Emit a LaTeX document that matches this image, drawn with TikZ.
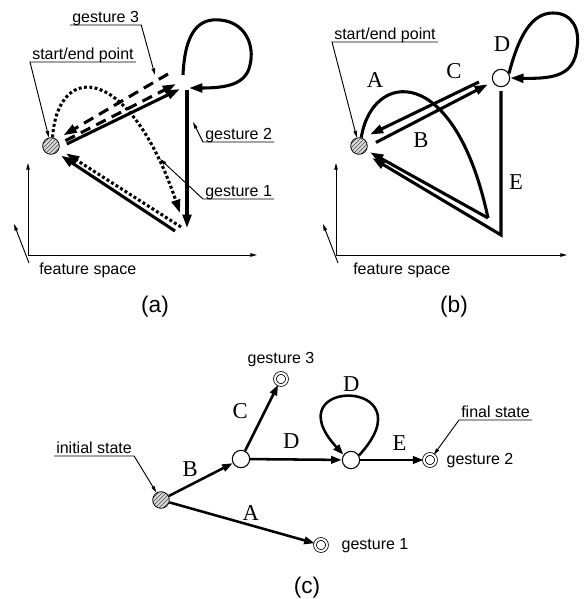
\documentclass[tikz,border=0pt]{standalone}
\usepackage{fontspec}
\setmainfont{Liberation Serif}
\setsansfont{Liberation Sans}
\usetikzlibrary{arrows.meta,positioning,patterns}

\newcommand{\notefont}{\sffamily\fontsize{12}{14}\selectfont}
\newcommand{\letterfont}{\rmfamily\fontsize{17}{20}\selectfont}
\newcommand{\capfont}{\sffamily\fontsize{17}{20}\selectfont}

\begin{document}
\begin{tikzpicture}[
    x=0.75pt, y=-0.75pt,
    startstate/.style={circle, draw, line width=0.6pt, minimum size=12.5pt, inner sep=0pt, preaction={fill=gray!30}, pattern=north east lines, pattern color=black!70},
    plainstate/.style={circle, draw, line width=0.8pt, fill=white, minimum size=13pt, inner sep=0pt},
    finalstate/.style={circle, draw, double, double distance=1.5pt, line width=0.6pt, minimum size=9pt, inner sep=0pt},
    note/.style={font=\notefont, inner xsep=1.5pt, inner ysep=0pt, text depth=0.2em},
    letter/.style={font=\letterfont, inner sep=0pt},
    caption/.style={font=\capfont, inner sep=0pt},
    trail/.style={line width=2.3pt, -{Triangle[length=10pt,width=6.5pt]}},
    plain/.style={line width=2.3pt},
    dottrail/.style={trail, dash pattern=on 2.2pt off 1.8pt},
    dashtrail/.style={trail, dash pattern=on 8pt off 5pt},
    edge/.style={line width=1.9pt, -{Triangle[length=8pt,width=5.5pt]}},
    leader/.style={line width=0.7pt, -{Triangle[length=5pt,width=2.6pt]}},
    axis/.style={line width=0.7pt, -{Triangle[length=5pt,width=2.6pt]}}
]
\useasboundingbox (0,0) rectangle (584,599);

% (a)
\node[startstate] (sa) at (51,146) {};
\coordinate (oa) at (28,255);
\draw[axis] (oa) -- ++(0,-92);
\draw[axis] (oa) -- ++(229,0);
\draw[axis] ([shift={(1,8)}]oa) -- ++(-15,-39);
\node[note, anchor=base west] (fsa) at (37,274) {feature space};

\coordinate (p1) at (180,89);
\coordinate (p2) at (176,84);
\coordinate (p3) at (168,74);
\coordinate (p4) at (183,75);
\coordinate (p5) at (189,88);
\coordinate (p6) at (187,90);
\coordinate (q1) at (187,228);
\coordinate (q2) at (175,231);
\coordinate (q3) at (180,213);
\coordinate (q4) at (181,227);

\draw[trail, shorten <=6pt] (sa.-10) -- (p1);
\draw[dashtrail, shorten <=5pt] (sa.15) -- (p2);
\draw[dashtrail, shorten >=6pt] (p3) -- (sa.50);
\draw[trail] (p4) .. controls (185,30) and (200,18) .. (220,20) .. controls (245,22) and (255,45) .. (250,65) .. controls (246,85) and (225,88) .. (p5);
\draw[trail] (p6) -- (q1);
\draw[trail, shorten >=4pt] (q2) -- (sa.-50);
\draw[dottrail] (sa.80) .. controls (58,60) and (130,65) .. (q3);
\draw[dottrail, shorten >=6pt] (q4) -- (sa.-20);

\node[note, anchor=south west] (g3a) at (70,25) {gesture 3};
\coordinate (g3tip) at (155,75);
\draw[leader] (g3a.south west) -- (g3a.south east) -- (g3tip);
\node[note, anchor=south west] (sea) at (30,62) {start/end point};
\draw[leader] (sea.south east) -- (sea.south west) -- (sa);
\node[note, anchor=south west] (g2a) at (203,142) {gesture 2};
\coordinate (g2tip) at (193,122);
\draw[leader] (g2a.south east) -- (g2a.south west) -- (g2tip);
\node[note, anchor=south west] (g1a) at (203,199) {gesture 1};
\coordinate (g1tip) at (160,159);
\draw[leader] (g1a.south east) -- (g1a.south west) -- (g1tip);
\node[caption] (capa) at (155,307) {(a)};

% (b)
\node[startstate] (sb) at (359,146) {};
\node[plainstate] (nd) at (501,78) {};
\coordinate (ob) at (336,255);
\draw[axis] (ob) -- ++(0,-92);
\draw[axis] (ob) -- ++(231,0);
\draw[axis] ([shift={(2,8)}]ob) -- ++(-15,-39);
\node[note, anchor=base west] (fsb) at (351,274) {feature space};

\coordinate (aturn) at (488,218);
\coordinate (eturn) at (501,235);
\draw[plain] (sb.75) .. controls (372,70) and (455,62) .. (aturn);
\draw[trail, shorten >=3pt] (aturn) -- (sb.-30);
\draw[trail, shorten <=3pt, shorten >=7pt] (nd.south) -- (eturn) -- (sb.-55);
\draw[trail, shorten <=7pt, shorten >=4pt] (sb.-5) -- (nd.205);
\draw[trail, shorten <=11pt, shorten >=6pt] (nd.165) -- (sb.65);
\draw[trail] (nd.30) .. controls (519,35) and (532,13) .. (553,13) .. controls (573,13) and (580,30) .. (577,48) .. controls (574,75) and (555,79) .. (nd.east);

\node[letter] (la) at (375,80) {A};
\node[letter] (lb) at (421,140) {B};
\node[letter] (lc) at (454,71) {C};
\node[letter] (ld) at (502,44) {D};
\node[letter] (le) at (516,182) {E};

\node[note, anchor=south west] (seb) at (332,42) {start/end point};
\draw[leader] (seb.south east) -- (seb.south west) -- (sb);
\node[caption] (capb) at (454,307) {(b)};

% (c)
\node[startstate] (ini) at (161,500) {};
\node[plainstate] (s1) at (241,459) {};
\node[plainstate] (s2) at (351,460) {};
\node[finalstate] (f3) at (281,379) {};
\node[finalstate] (f2) at (430,460) {};
\node[finalstate] (f1) at (321,545) {};

\draw[edge] (ini) -- node[letter, midway, above left=2pt] {B} (s1);
\draw[edge] (s1) -- node[letter, pos=0.6, left=12pt] {C} (f3);
\draw[edge] (s1) -- node[letter, pos=0.45, above=7pt] {D} (s2);
\draw[edge] (s2) -- node[letter, pos=0.62, above=6pt] {E} (f2);
\draw[edge] (ini) -- node[letter, pos=0.56, above=3pt] {A} (f1);
\draw[edge] (s2.30) .. controls +(72,-78) and +(-72,-78) .. node[letter, above=3pt] {D} (s2.145);

\node[note, above=5pt of f3] (f3t) {gesture 3};
\node[note, right=6pt of f2] (f2t) {gesture 2};
\node[note, right=9pt of f1] (f1t) {gesture 1};

\node[note, anchor=south west] (ininote) at (54,456) {initial state};
\draw[leader] (ininote.south west) -- (ininote.south east) -- (ini);
\node[note, anchor=south east] (finnote) at (532,420) {final state};
\draw[leader] (finnote.south east) -- (finnote.south west) -- (f2);
\node[caption] (capc) at (307,588) {(c)};

\end{tikzpicture}
\end{document}
